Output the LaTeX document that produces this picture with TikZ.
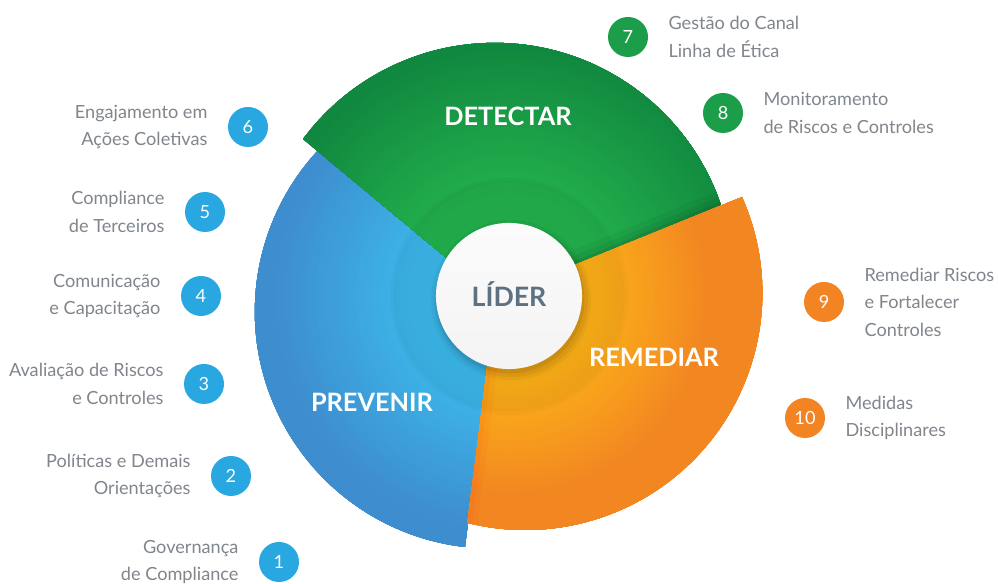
\documentclass[tikz,border=0pt]{standalone}
\usepackage{fontspec}
\setmainfont{Lato}
\definecolor{txtgray}{RGB}{128,134,140}
\definecolor{numblue}{RGB}{41,167,225}
\definecolor{numgreen}{RGB}{28,157,74}
\definecolor{numorange}{RGB}{242,132,35}
\definecolor{gIn}{RGB}{35,177,77}
\definecolor{gOut}{RGB}{17,136,63}
\definecolor{bIn}{RGB}{60,183,233}
\definecolor{bOut}{RGB}{62,141,207}
\definecolor{oIn}{RGB}{251,176,24}
\definecolor{oOut}{RGB}{242,135,34}
\definecolor{liderTxt}{RGB}{94,113,128}
\newcommand{\radgrad}[4]{% inner colour, outer colour, r0, r1
  \foreach \i in {0,...,56}{%
    \pgfmathsetmacro{\rr}{285-\i*4}%
    \pgfmathtruncatemacro{\pp}{max(0,min(100,(\rr-#3)/(#4-#3)*100))}%
    \fill[#2!\pp!#1] (509,288) circle (\rr);
  }}
\begin{document}
\begin{tikzpicture}[x=0.025cm, y=0.025cm,
  numc/.style={circle, inner sep=0pt, minimum size=28.45pt, text=white, font=\fontsize{12.9}{14}\selectfont},
  lblL/.style={anchor=east, align=right, inner sep=0pt, text=txtgray, font=\fontsize{12.9}{19.6}\selectfont},
  lblR/.style={anchor=west, align=left, inner sep=0pt, text=txtgray, font=\fontsize{12.9}{19.6}\selectfont},
  head/.style={anchor=base, text=white, inner sep=0pt, font=\bfseries\fontsize{18}{20}\selectfont}]
\fill[white] (0,0) rectangle (998,584);
\useasboundingbox (0,0) rectangle (998,584);

% PREVENIR (blue)
\begin{scope}
  \clip (496,287) -- (465,37) arc[start angle=263.5, end angle=135, radius=237] -- cycle;
  \radgrad{bIn}{bOut}{100}{235}
\end{scope}

% DETECTAR (green)
\begin{scope}
  \clip (495,286) -- (303,445) arc[start angle=143.3, end angle=10, radius=239] -- cycle;
  \radgrad{gIn}{gOut}{100}{250}
  \draw[line width=20pt, black, opacity=0.04] (496,287) -- (800,411);
  \draw[line width=12pt, black, opacity=0.05] (496,287) -- (800,411);
  \draw[line width=5pt, black, opacity=0.07] (496,287) -- (800,411);
\end{scope}

% REMEDIAR (orange)
\begin{scope}
  \clip (496,287) -- (742,387) arc[start angle=23.9, end angle=-104.15, radius=237] -- cycle;
  \radgrad{oIn}{oOut}{90}{200}
  \draw[line width=14pt, red!70!orange, opacity=0.05] (496,287) -- (464,30);
  \draw[line width=6pt, red!70!orange, opacity=0.06] (496,287) -- (464,30);
\end{scope}

% inner ring
\fill[black, opacity=0.025] (509,288) circle (119);
\fill[black, opacity=0.02] (509,288) circle (116);

% white centre
\fill[black, opacity=0.04] (511,284) circle (80);
\fill[black, opacity=0.05] (511,284) circle (77);
\fill[black, opacity=0.07] (510,285) circle (74.5);
\node[circle, inner sep=0pt, minimum size=103.9pt, top color=white!97!gray, bottom color=white!91!gray] (lider) at (509,288) {};
\node[anchor=base, inner sep=0pt, text=liderTxt, font=\bfseries\fontsize{19}{20}\selectfont] (lidertxt) at (509,277) {LÍDER};

% headings
\node[head] (detectar) at (508,458) {DETECTAR};
\node[head] (prevenir) at (372,172) {PREVENIR};
\node[head] (remediar) at (654,217) {REMEDIAR};

% numbered items, left
\node[numc, fill=numblue] (n6) at (248,457) {6};
\node[lblL] (t6) at ([xshift=-14.2pt]n6.west) {Engajamento em\\Ações Coletivas};
\node[numc, fill=numblue] (n5) at (205,372) {5};
\node[lblL] (t5) at ([xshift=-14.2pt]n5.west) {Compliance\\de Terceiros};
\node[numc, fill=numblue] (n4) at (201,288) {4};
\node[lblL] (t4) at ([xshift=-14.2pt]n4.west) {Comunicação\\e Capacitação};
\node[numc, fill=numblue] (n3) at (204,200) {3};
\node[lblL] (t3) at ([xshift=-14.2pt]n3.west) {Avaliação de Riscos\\e Controles};
\node[numc, fill=numblue] (n2) at (231,108) {2};
\node[lblL] (t2) at ([xshift=-14.2pt]n2.west) {Políticas e Demais\\Orientações};
\node[numc, fill=numblue] (n1) at (279,22) {1};
\node[lblL] (t1) at ([xshift=-14.2pt]n1.west) {Governança\\de Compliance};

% numbered items, right
\node[numc, fill=numgreen] (n7) at (628,547) {7};
\node[lblR] (t7) at ([xshift=14.2pt]n7.east) {Gestão do Canal\\Linha de Ética};
\node[numc, fill=numgreen] (n8) at (723,471) {8};
\node[lblR] (t8) at ([xshift=14.2pt]n8.east) {Monitoramento\\de Riscos e Controles};
\node[numc, fill=numorange] (n9) at (824,282) {9};
\node[lblR] (t9) at ([xshift=14.2pt]n9.east) {Remediar Riscos\\e Fortalecer\\Controles};
\node[numc, fill=numorange] (n10) at (805,166) {10};
\node[lblR] (t10) at ([xshift=14.2pt]n10.east) {Medidas\\Disciplinares};
\end{tikzpicture}
\end{document}
